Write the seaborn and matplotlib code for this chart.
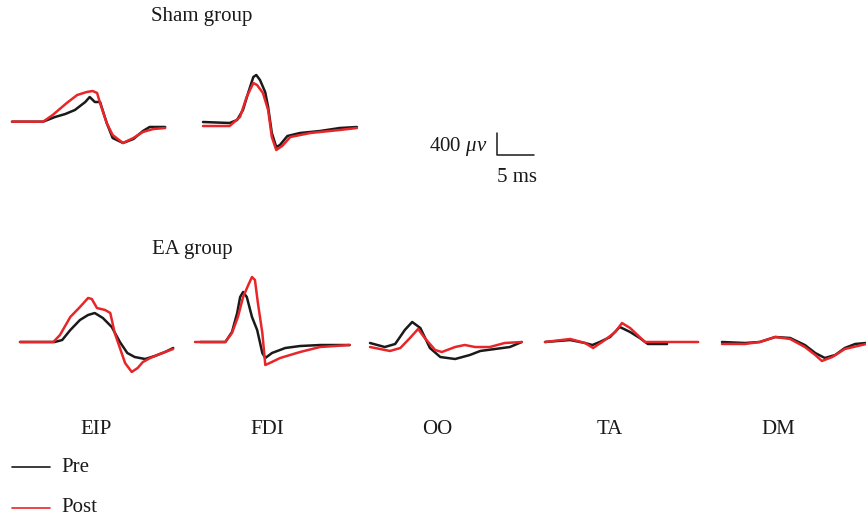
import numpy as np
import pandas as pd
import matplotlib.pyplot as plt
import seaborn as sns

# waveform samples: time (ms) and amplitude (uV) from trace start
sham_eip_pre_t = [0, 4.2, 5.8, 7.2, 8.5, 9.9, 10.5, 11.2, 11.9, 12.8, 13.6, 15.0, 16.4, 17.7, 18.6, 20.7]
sham_eip_pre_v = [0, 0, 85, 140, 213, 358, 449, 358, 358, -24, -296, -387, -315, -169, -96, -96]
sham_eip_post_t = [0, 4.2, 5.5, 7.4, 8.8, 10.1, 10.9, 11.5, 11.9, 12.8, 13.6, 15.0, 16.4, 17.7, 19.1, 20.7]
sham_eip_post_v = [0, 0, 122, 340, 485, 540, 558, 522, 340, -24, -242, -387, -296, -187, -133, -115]

sham_fdi_pre_t = [0, 3.6, 4.6, 5.4, 6.1, 6.8, 7.2, 7.7, 8.4, 8.8, 9.3, 9.9, 10.4, 11.4, 13.1, 15.8, 18.5, 20.8]
sham_fdi_pre_v = [0, -18, 36, 218, 527, 818, 855, 764, 545, 273, -200, -455, -418, -255, -200, -164, -109, -91]
sham_fdi_post_t = [0, 3.6, 5.0, 5.9, 6.8, 7.3, 8.1, 8.8, 9.3, 9.9, 10.7, 11.8, 14.5, 18.5, 20.8]
sham_fdi_post_v = [-73, -73, 91, 455, 709, 673, 527, 218, -273, -509, -436, -273, -200, -145, -109]

ea_eip_pre_t = [0, 4.7, 5.7, 6.8, 8.1, 9.2, 10.1, 11.2, 12.4, 13.5, 14.5, 15.5, 16.9, 18.2, 19.6, 20.7]
ea_eip_pre_v = [0, 0, 36, 218, 400, 491, 527, 436, 273, 0, -200, -273, -309, -255, -182, -109]
ea_eip_post_t = [0, 4.5, 5.4, 6.8, 8.1, 9.2, 9.7, 10.4, 11.5, 12.2, 12.8, 13.5, 14.2, 15.1, 15.9, 16.6, 17.6, 18.9, 20.7]
ea_eip_post_v = [0, 0, 127, 455, 636, 800, 782, 618, 582, 527, 164, -109, -382, -545, -473, -364, -291, -218, -127]

ea_fdi_pre_t = [0.7, 4.1, 5.0, 5.7, 6.1, 6.5, 7.0, 7.7, 8.4, 9.1, 9.5, 10.4, 12.2, 14.2, 16.9, 20.9]
ea_fdi_pre_v = [0, 0, 182, 527, 818, 909, 818, 455, 218, -200, -291, -200, -109, -73, -55, -55]
ea_fdi_post_t = [0, 4.1, 5.0, 5.8, 6.5, 7.2, 7.7, 8.1, 8.5, 9.1, 9.5, 10.1, 11.5, 14.2, 16.9, 20.9]
ea_fdi_post_v = [0, 0, 164, 455, 818, 1036, 1182, 1127, 709, 164, -418, -382, -291, -182, -91, -55]

ea_oo_pre_t = [0, 2.0, 3.4, 4.7, 5.7, 6.8, 8.1, 9.5, 11.5, 13.5, 14.9, 16.9, 18.9, 20.5]
ea_oo_pre_v = [0, -73, -18, 236, 382, 273, -91, -255, -291, -218, -145, -109, -73, 18]
ea_oo_post_t = [0, 2.7, 4.1, 5.4, 6.5, 7.4, 8.8, 9.7, 11.5, 12.8, 14.2, 16.2, 18.2, 20.5]
ea_oo_post_v = [-73, -145, -91, 91, 255, 91, -127, -164, -73, -36, -73, -73, 0, 18]

ea_ta_pre_t = [0, 3.4, 5.4, 6.4, 7.4, 8.8, 10.1, 11.5, 12.8, 13.9, 16.5]
ea_ta_pre_v = [0, 36, -18, -55, 0, 91, 273, 182, 73, -36, -36]
ea_ta_post_t = [0, 3.4, 5.4, 6.5, 8.1, 9.5, 10.4, 11.5, 13.5, 20.7]
ea_ta_post_v = [0, 55, -18, -109, 36, 182, 345, 255, 0, 0]

ea_dm_pre_t = [0, 3.1, 5.1, 7.2, 9.2, 11.2, 12.6, 13.9, 15.3, 16.6, 18.0, 19.5]
ea_dm_pre_v = [0, -18, 0, 91, 73, -55, -200, -291, -236, -109, -36, -18]
ea_dm_post_t = [0, 3.1, 5.1, 7.2, 9.2, 11.2, 12.6, 13.5, 14.9, 16.6, 19.5]
ea_dm_post_v = [-36, -36, 0, 91, 55, -91, -236, -345, -273, -127, -36]

muscles = ['EIP', 'FDI', 'OO', 'TA', 'DM']
scale_uv = 400
scale_ms = 5

# layout (pixels in an 866x520 canvas)
W, H = 866, 520
PX_MS, PX_UV = 7.4, 0.055
PRE, POST = '#1a1a1a', '#e8262a'

panels = [
    ((12, 121.7), sham_eip_pre_t, sham_eip_pre_v, sham_eip_post_t, sham_eip_post_v),
    ((203, 122), sham_fdi_pre_t, sham_fdi_pre_v, sham_fdi_post_t, sham_fdi_post_v),
    ((20, 342), ea_eip_pre_t, ea_eip_pre_v, ea_eip_post_t, ea_eip_post_v),
    ((195, 342), ea_fdi_pre_t, ea_fdi_pre_v, ea_fdi_post_t, ea_fdi_post_v),
    ((370, 343), ea_oo_pre_t, ea_oo_pre_v, ea_oo_post_t, ea_oo_post_v),
    ((545, 342), ea_ta_pre_t, ea_ta_pre_v, ea_ta_post_t, ea_ta_post_v),
    ((722, 342), ea_dm_pre_t, ea_dm_pre_v, ea_dm_post_t, ea_dm_post_v),
]

sns.set_theme(style='white')
plt.rcParams['font.family'] = ['Liberation Serif', 'DejaVu Serif']
plt.rcParams['mathtext.fontset'] = 'custom'
plt.rcParams['mathtext.it'] = 'Liberation Serif:italic'
plt.rcParams['mathtext.rm'] = 'Liberation Serif'

fig = plt.figure(figsize=(8.66, 5.2), dpi=100)
ax = fig.add_axes([0, 0, 1, 1])
ax.set_xlim(0, W / PX_MS)
ax.set_ylim(-H / PX_UV, 0)
ax.axis('off')

for (x0, y0), pt, pv, qt, qv in panels:
    dx, dy = x0 / PX_MS, -y0 / PX_UV
    sns.lineplot(x=np.array(pt) + dx, y=np.array(pv) + dy, color=PRE, lw=1.8,
                 sort=False, estimator=None, ax=ax, solid_joinstyle='round')
    sns.lineplot(x=np.array(qt) + dx, y=np.array(qv) + dy, color=POST, lw=1.8,
                 sort=False, estimator=None, ax=ax, solid_joinstyle='round')

# scale bar
bx, by = 497 / PX_MS, -155 / PX_UV
ax.plot([bx, bx, bx + scale_ms], [by + scale_uv, by, by], color='#1a1a1a', lw=1.1)

def txt(x, y, s, **kw):
    fig.text(x / W, 1 - y / H, s, fontsize=15, color='#1a1a1a', va='center', **kw)

txt(151, 16, 'Sham group')
txt(152, 249, 'EA group')
for name, cx in zip(muscles, [96.5, 267.5, 437, 610, 778.5]):
    txt(cx, 429, name, ha='center')
txt(487, 146, r'400 $\mu v$', ha='right')
txt(497, 177, '%d ms' % scale_ms)

# legend
for yy, c, lab in [(467, PRE, 'Pre'), (508, POST, 'Post')]:
    ax.plot([12 / PX_MS, 50 / PX_MS], [-yy / PX_UV] * 2, color=c, lw=1.2)
    txt(61, yy, lab)

plt.savefig('out.png', dpi=100)
